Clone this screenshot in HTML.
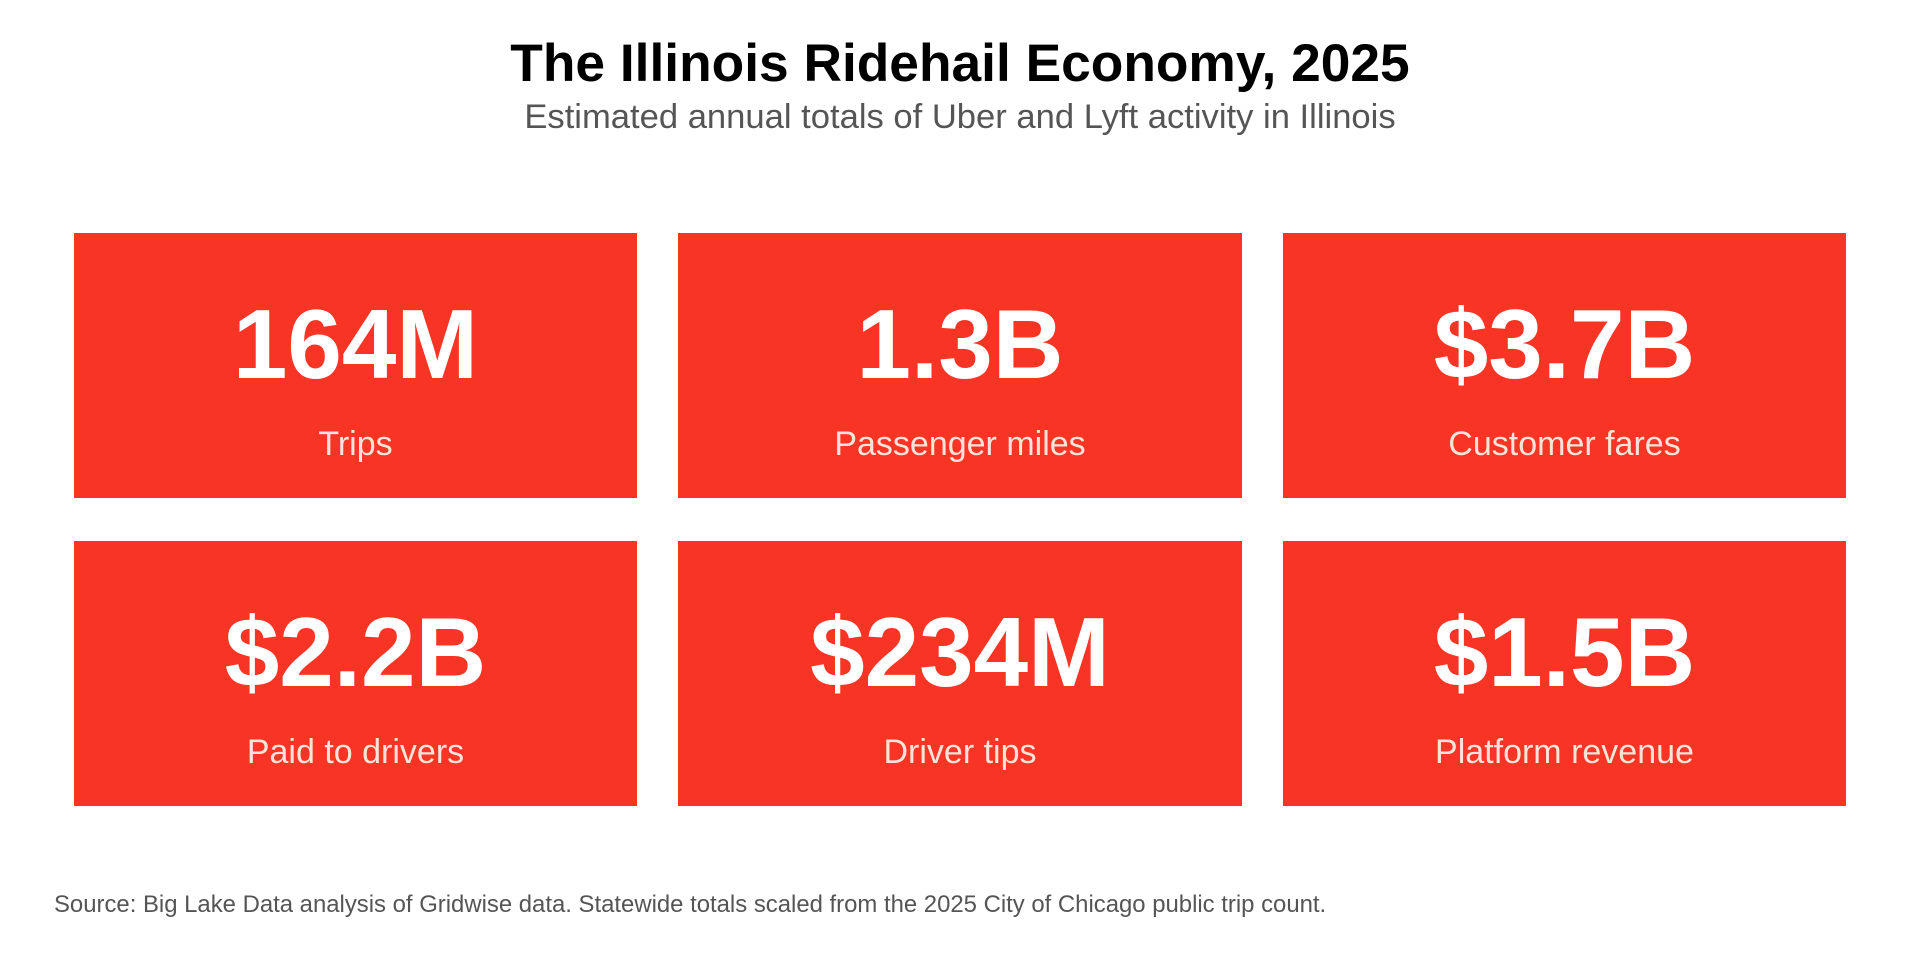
<!DOCTYPE html>
<html><head><meta charset="utf-8"><style>
html,body{margin:0;padding:0;background:#fff;}
svg{display:block;}
text{font-family:"Liberation Sans",Arial,sans-serif;}
</style></head><body>
<svg width="1920" height="960" viewBox="0 0 1920 960" xmlns="http://www.w3.org/2000/svg">
<rect width="1920" height="960" fill="#fff"/>
<text x="960" y="81" text-anchor="middle" font-size="53.3" font-weight="bold" fill="#000">The Illinois Ridehail Economy, 2025</text>
<text x="960" y="128" text-anchor="middle" font-size="34.6" fill="#555">Estimated annual totals of Uber and Lyft activity in Illinois</text>
<g fill="#F83424">
<rect x="74" y="233" width="563" height="265"/>
<rect x="678" y="233" width="564" height="265"/>
<rect x="1283" y="233" width="563" height="265"/>
<rect x="74" y="541" width="563" height="265"/>
<rect x="678" y="541" width="564" height="265"/>
<rect x="1283" y="541" width="563" height="265"/>
</g>
<g font-size="98" font-weight="bold" fill="#fff" text-anchor="middle">
<text x="355.5" y="378">164M</text>
<text x="960" y="378">1.3B</text>
<text x="1564.5" y="378">$3.7B</text>
<text x="355.5" y="686">$2.2B</text>
<text x="960" y="686">$234M</text>
<text x="1564.5" y="686">$1.5B</text>
</g>
<g font-size="34" fill="#FDE3DA" text-anchor="middle">
<text x="355.5" y="455">Trips</text>
<text x="960" y="455">Passenger miles</text>
<text x="1564.5" y="455">Customer fares</text>
<text x="355.5" y="763">Paid to drivers</text>
<text x="960" y="763">Driver tips</text>
<text x="1564.5" y="763">Platform revenue</text>
</g>
<text x="54" y="912" font-size="23.9" fill="#555">Source: Big Lake Data analysis of Gridwise data. Statewide totals scaled from the 2025 City of Chicago public trip count.</text>
</svg>
</body></html>
